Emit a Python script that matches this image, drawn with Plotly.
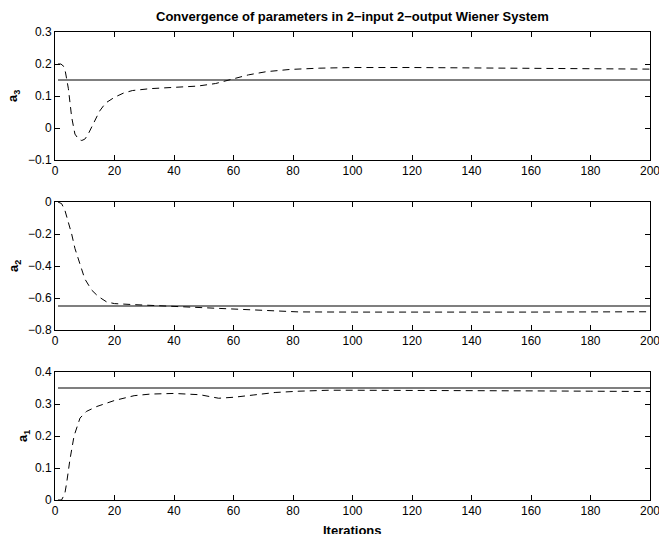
import plotly.graph_objects as go

# ---------------- data ----------------
iters_true = [1, 200]
a3_true = [0.15, 0.15]
a2_true = [-0.65, -0.65]
a1_true = [0.35, 0.35]

a3_x = [1, 2, 3, 3.5, 4.5, 5.6, 6.7, 8, 9, 10, 11, 13, 15, 17, 20, 23, 26, 32, 40, 48, 54,
        60, 65, 71, 79, 89, 100, 120, 140, 160, 180, 200]
a3_est = [0.200, 0.200, 0.192, 0.175, 0.123, 0.034, -0.019, -0.036, -0.039, -0.035, -0.022,
          0.015, 0.053, 0.078, 0.096, 0.109, 0.117, 0.123, 0.127, 0.131, 0.139,
          0.154, 0.166, 0.176, 0.183, 0.187, 0.189, 0.189, 0.188, 0.187, 0.185, 0.184]

a2_x = [1, 2.2, 3.3, 4.4, 5.6, 6.7, 8.4, 10, 12.3, 14.5, 17.4, 20, 26, 32, 40, 48.7, 55,
        62, 71, 82, 100, 120, 140, 160, 180, 200]
a2_est = [0.0, -0.01, -0.05, -0.115, -0.2, -0.29, -0.385, -0.48, -0.55, -0.59, -0.625,
          -0.635, -0.641, -0.646, -0.65, -0.658, -0.667, -0.672, -0.68, -0.687,
          -0.688, -0.689, -0.689, -0.688, -0.687, -0.686]

a1_x = [1, 2.2, 3.3, 3.9, 5, 6.4, 8.4, 10.6, 14, 20, 26.6, 32, 40, 48.7, 55, 60, 66.6,
        74, 82, 92, 100, 120, 140, 160, 180, 200]
a1_est = [0.0, 0.0, 0.02, 0.052, 0.125, 0.2, 0.256, 0.277, 0.292, 0.311, 0.326, 0.331,
          0.333, 0.329, 0.318, 0.321, 0.328, 0.336, 0.34, 0.343, 0.343, 0.343, 0.342,
          0.341, 0.340, 0.339]

x_ticks = [0, 20, 40, 60, 80, 100, 120, 140, 160, 180, 200]
y3_ticks = [-0.1, 0, 0.1, 0.2, 0.3]
y2_ticks = [-0.8, -0.6, -0.4, -0.2, 0]
y1_ticks = [0, 0.1, 0.2, 0.3, 0.4]

# ---------------- figure ----------------
W, H = 659, 534
L, R, T, B = 55, 9, 32, 34
ph = H - T - B


def dom(top_px, bot_px):
    return [(H - B - bot_px) / ph, (H - B - top_px) / ph]


FONT = "Liberation Sans, Arial, Helvetica, sans-serif"
fig = go.Figure()

panels = [
    ("x", "y", a3_x, a3_est, a3_true, y3_ticks, [-0.1, 0.3], dom(32, 160), "a<sub>3</sub>", 14),
    ("x2", "y2", a2_x, a2_est, a2_true, y2_ticks, [-0.8, 0], dom(202, 330), "a<sub>2</sub>", 14),
    ("x3", "y3", a1_x, a1_est, a1_true, y1_ticks, [0, 0.4], dom(372, 500), "a<sub>1</sub>", 23),
]

for i, (xa, ya, ex, ey, ty, yt, yr, d, lab, labx) in enumerate(panels):
    fig.add_trace(go.Scatter(x=iters_true, y=ty, mode="lines", xaxis=xa, yaxis=ya,
                             line=dict(color="black", width=1.1), showlegend=False))
    fig.add_trace(go.Scatter(x=ex, y=ey, mode="lines", xaxis=xa, yaxis=ya,
                             line=dict(color="black", width=1, dash="7px,5px"),
                             showlegend=False))
    n = "" if i == 0 else str(i + 1)
    axstyle = dict(showline=True, linecolor="black", linewidth=1, mirror="ticks",
                   ticks="inside", ticklen=5, tickcolor="black", showgrid=False,
                   zeroline=False, ticklabeloverflow="allow", automargin=False,
                   tickfont=dict(family=FONT, size=12, color="black"))
    fig.layout["xaxis" + n] = dict(axstyle, range=[0, 200], tickvals=x_ticks,
                                   anchor="y" + n, domain=[0, 1])
    fig.layout["yaxis" + n] = dict(axstyle, range=yr, tickvals=yt,
                                   ticktext=[("−" if v < 0 else "") + ("%g" % abs(v)) for v in yt],
                                   anchor="x" + n, domain=d)
    fig.add_annotation(text="<b>" + lab + "</b>", xref="paper", yref="paper",
                       x=(labx - L) / (W - L - R), y=(d[0] + d[1]) / 2,
                       textangle=-90, showarrow=False, xanchor="center", yanchor="middle",
                       font=dict(family=FONT, size=13, color="black"))

fig.add_annotation(text="<b>Convergence of parameters in 2−input 2−output Wiener System</b>",
                   xref="paper", yref="paper", x=0.5, y=(H - B - 17) / ph,
                   showarrow=False, xanchor="center", yanchor="middle",
                   font=dict(family=FONT, size=13, color="black"))
fig.add_annotation(text="<b>Iterations</b>", xref="paper", yref="paper", x=0.5,
                   y=(H - B - 530) / ph, showarrow=False, xanchor="center", yanchor="middle",
                   font=dict(family=FONT, size=13, color="black"))

fig.update_layout(width=W, height=H, margin=dict(l=L, r=R, t=T, b=B, autoexpand=False),
                  plot_bgcolor="white", paper_bgcolor="white")

fig.write_html("out.html", config={"displayModeBar": False},
               post_script="document.body.style.margin='0';")
